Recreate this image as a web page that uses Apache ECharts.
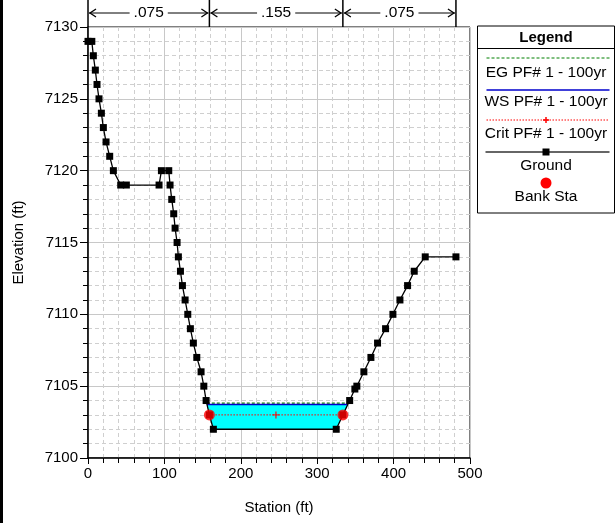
<!DOCTYPE html>
<html>
<head>
<meta charset="utf-8">
<script src="https://cdn.jsdelivr.net/npm/echarts@6/dist/echarts.min.js"></script>
<style>html,body{margin:0;padding:0;background:#fff}#c{width:616px;height:523px}</style>
</head>
<body>
<div id="c"></div>
<script>
// ---- data ----
var groundSta = [0, 5, 7, 9.6, 11.8, 14.4, 17.5, 20.1, 23.6, 28.4, 33.2, 42.8, 50.2, 93, 96.1, 105.7, 107.4, 109.6, 112.2, 114, 116.6, 118.3, 121, 123.6, 127.1, 130.6, 134, 137.9, 142.4, 148, 151.6, 154.6, 158.9, 164.1, 324.9, 333.6, 342.5, 349.3, 351.9, 361.1, 370.3, 379, 389.5, 399.1, 408.3, 418.3, 427, 441.4, 481.6];
var groundElev = [7129, 7129, 7128, 7127, 7126, 7125, 7124, 7123, 7122, 7121, 7120, 7119, 7119, 7119, 7120, 7120, 7119, 7118, 7117, 7116, 7115, 7114, 7113, 7112, 7111, 7110, 7109, 7108, 7107, 7106, 7105, 7104, 7103, 7102, 7102, 7103, 7104, 7104.8, 7105, 7106, 7107, 7108, 7109, 7110, 7111, 7112, 7113, 7114, 7114];
var bankSta = [158.9, 333.6];
var bankElev = [7103, 7103];
var wsElev = 7103.72;
var egElev = 7103.82;
var critElev = 7103.0;
var critMidSta = 246;
var wsLeft = 155.6, wsRight = 340.2;
var egLeft = 155.5, egRight = 340.3;
var nSta = [0, 158.9, 333.6, 481.6];
var nVals = ['.075', '.155', '.075'];
var xTicks = [0, 100, 200, 300, 400, 500];
var yTicks = [7100, 7105, 7110, 7115, 7120, 7125, 7130];
var legendItems = ['EG PF# 1 - 100yr', 'WS PF# 1 - 100yr', 'Crit PF# 1 - 100yr', 'Ground', 'Bank Sta'];

// ---- derived ----
var groundData = groundSta.map(function (s, i) { return [s, groundElev[i]]; });
var bankData = bankSta.map(function (s, i) { return [s, bankElev[i]]; });
var waterPoly = [[wsLeft, wsElev]];
groundSta.forEach(function (s, i) { if (s > wsLeft && s < wsRight && groundElev[i] < wsElev) waterPoly.push([s, groundElev[i]]); });
waterPoly.push([wsRight, wsElev]);

var FONT = '"Liberation Sans", Arial, sans-serif';
var chart = echarts.init(document.getElementById('c'), null, { renderer: 'canvas' });

var option = {
  animation: false,
  backgroundColor: '#fff',
  grid: { left: 88, right: 146, top: 27, bottom: 65, show: true, borderColor: '#000', borderWidth: 1, backgroundColor: 'transparent' },
  xAxis: {
    type: 'value', min: xTicks[0], max: xTicks[xTicks.length - 1], interval: 100,
    name: 'Station (ft)', nameLocation: 'middle', nameGap: 42,
    nameTextStyle: { fontFamily: FONT, fontSize: 15, color: '#000' },
    axisLine: { onZero: false, lineStyle: { color: '#000', width: 1.5 } },
    axisTick: { show: true, length: 6, lineStyle: { color: '#000' } },
    minorTick: { show: true, splitNumber: 5, length: 5, lineStyle: { color: '#000' } },
    axisLabel: { fontFamily: FONT, fontSize: 15, color: '#000', margin: 8, formatter: function (v) { return String(v); } },
    splitLine: { show: true, lineStyle: { color: '#c8c8c8', width: 1 } },
    minorSplitLine: { show: true, lineStyle: { color: '#cfcfcf', type: [4, 3], width: 1 } }
  },
  yAxis: {
    type: 'value', min: yTicks[0], max: yTicks[yTicks.length - 1], interval: 5,
    name: 'Elevation (ft)', nameLocation: 'middle', nameGap: 62,
    nameTextStyle: { fontFamily: FONT, fontSize: 15, color: '#000' },
    axisLine: { onZero: false, lineStyle: { color: '#000', width: 1.5 } },
    axisTick: { show: true, length: 8, lineStyle: { color: '#000' } },
    minorTick: { show: true, splitNumber: 5, length: 5, lineStyle: { color: '#000' } },
    axisLabel: { fontFamily: FONT, fontSize: 15, color: '#000', margin: 10, formatter: function (v) { return String(v); } },
    splitLine: { show: true, lineStyle: { color: '#c8c8c8', width: 1 } },
    minorSplitLine: { show: true, lineStyle: { color: '#cfcfcf', type: [4, 3], width: 1 } }
  },
  series: [
    {
      name: 'Water', type: 'custom', z: 2,
      data: [0],
      renderItem: function (params, api) {
        var pts = waterPoly.map(function (p) { return api.coord(p); });
        return { type: 'polygon', shape: { points: pts }, style: { fill: '#00ffff', stroke: null } };
      }
    },
    {
      name: legendItems[0], type: 'line', z: 4, symbol: 'none',
      data: [[egLeft, egElev], [egRight, egElev]],
      lineStyle: { color: '#008000', width: 1.2, type: [3, 2] }
    },
    {
      name: legendItems[1], type: 'line', z: 4, symbol: 'none',
      data: [[wsLeft, wsElev], [wsRight, wsElev]],
      lineStyle: { color: '#0000cc', width: 1.5 }
    },
    {
      name: legendItems[2], type: 'line', z: 4, symbol: 'none',
      data: [[bankSta[0], critElev], [bankSta[1], critElev]],
      lineStyle: { color: '#ff0000', width: 1, type: [1.5, 1.5] }
    },
    {
      name: 'CritMark', type: 'scatter', z: 5,
      data: [[critMidSta, critElev]],
      symbol: 'path://M4,0 L6,0 L6,4 L10,4 L10,6 L6,6 L6,10 L4,10 L4,6 L0,6 L0,4 L4,4 Z',
      symbolSize: 7, itemStyle: { color: '#ff0000' }
    },
    {
      name: legendItems[3], type: 'line', z: 6,
      data: groundData,
      symbol: 'rect', symbolSize: 7,
      lineStyle: { color: '#000', width: 1.3 },
      itemStyle: { color: '#000' }
    },
    {
      name: legendItems[4], type: 'scatter', z: 7,
      data: bankData,
      symbol: 'circle', symbolSize: 11,
      itemStyle: { color: '#ff0000' }
    }
  ]
};
chart.setOption(option);

// ---- n-value annotation and legend via graphic ----
var g = [];
g.push({ type: 'rect', shape: { x: 0, y: 0, width: 3, height: 523 }, style: { fill: '#000' }, z: 100 });
var topY = chart.convertToPixel({ gridIndex: 0 }, [0, yTicks[yTicks.length - 1]])[1];
var nPx = nSta.map(function (s) { return chart.convertToPixel({ gridIndex: 0 }, [s, yTicks[0]])[0]; });
var arrowY = 13;
nPx.forEach(function (x) {
  g.push({ type: 'line', shape: { x1: x, y1: 0, x2: x, y2: topY }, style: { stroke: '#000', lineWidth: 1.5 }, z: 100 });
});
for (var i = 0; i < nVals.length; i++) {
  var a = nPx[i] + 1, b = nPx[i + 1] - 1, mid = (a + b) / 2;
  g.push({ type: 'line', shape: { x1: a, y1: arrowY, x2: b, y2: arrowY }, style: { stroke: '#000', lineWidth: 1 }, z: 100 });
  g.push({ type: 'polyline', shape: { points: [[a + 7, arrowY - 4], [a + 1, arrowY], [a + 7, arrowY + 4]] }, style: { stroke: '#000', lineWidth: 1.3, fill: null }, z: 100 });
  g.push({ type: 'polyline', shape: { points: [[b - 7, arrowY - 4], [b - 1, arrowY], [b - 7, arrowY + 4]] }, style: { stroke: '#000', lineWidth: 1.3, fill: null }, z: 100 });
  g.push({ type: 'text', x: mid, y: arrowY, z: 101, style: { text: nVals[i], font: '15.5px ' + FONT, fill: '#000', align: 'center', verticalAlign: 'middle', backgroundColor: '#fff', padding: [0, 4] } });
}
// legend box
var LX = 477.5, LY = 26, LW = 137, LH = 187, cx = LX + LW / 2;
g.push({ type: 'rect', shape: { x: LX, y: LY, width: LW, height: LH }, style: { fill: '#fff', stroke: '#000', lineWidth: 1 }, z: 100 });
g.push({ type: 'line', shape: { x1: LX, y1: 48.5, x2: LX + LW, y2: 48.5 }, style: { stroke: '#000', lineWidth: 1 }, z: 101 });
g.push({ type: 'text', x: cx, y: 37.5, z: 101, style: { text: 'Legend', font: 'bold 15px ' + FONT, fill: '#000', align: 'center', verticalAlign: 'middle' } });
var x1 = LX + 9, x2 = LX + LW - 5;
g.push({ type: 'line', shape: { x1: x1, y1: 58, x2: x2, y2: 58 }, style: { stroke: '#008000', lineWidth: 1.2, lineDash: [3, 2] }, z: 101 });
g.push({ type: 'text', x: cx, y: 73, z: 101, style: { text: legendItems[0], font: '15.5px ' + FONT, fill: '#000', align: 'center', verticalAlign: 'middle' } });
g.push({ type: 'line', shape: { x1: x1, y1: 90, x2: x2, y2: 90 }, style: { stroke: '#0000cc', lineWidth: 1.5 }, z: 101 });
g.push({ type: 'text', x: cx, y: 102, z: 101, style: { text: legendItems[1], font: '15.5px ' + FONT, fill: '#000', align: 'center', verticalAlign: 'middle' } });
g.push({ type: 'line', shape: { x1: x1, y1: 120, x2: x2, y2: 120 }, style: { stroke: '#ff0000', lineWidth: 1, lineDash: [1.5, 1.5] }, z: 101 });
g.push({ type: 'line', shape: { x1: cx - 3, y1: 120, x2: cx + 3, y2: 120 }, style: { stroke: '#ff0000', lineWidth: 1.5 }, z: 101 });
g.push({ type: 'line', shape: { x1: cx, y1: 117, x2: cx, y2: 123 }, style: { stroke: '#ff0000', lineWidth: 1.5 }, z: 101 });
g.push({ type: 'text', x: cx, y: 134, z: 101, style: { text: legendItems[2], font: '15.5px ' + FONT, fill: '#000', align: 'center', verticalAlign: 'middle' } });
g.push({ type: 'line', shape: { x1: x1 - 1, y1: 152, x2: x2, y2: 152 }, style: { stroke: '#333', lineWidth: 1.5 }, z: 101 });
g.push({ type: 'rect', shape: { x: cx - 3.5, y: 148.5, width: 7, height: 7 }, style: { fill: '#000' }, z: 102 });
g.push({ type: 'text', x: cx, y: 166, z: 101, style: { text: legendItems[3], font: '15.5px ' + FONT, fill: '#000', align: 'center', verticalAlign: 'middle' } });
g.push({ type: 'circle', shape: { cx: cx, cy: 183, r: 5.5 }, style: { fill: '#ff0000' }, z: 101 });
g.push({ type: 'text', x: cx, y: 197, z: 101, style: { text: legendItems[4], font: '15.5px ' + FONT, fill: '#000', align: 'center', verticalAlign: 'middle' } });
chart.setOption({ graphic: g });
</script>
</body>
</html>
